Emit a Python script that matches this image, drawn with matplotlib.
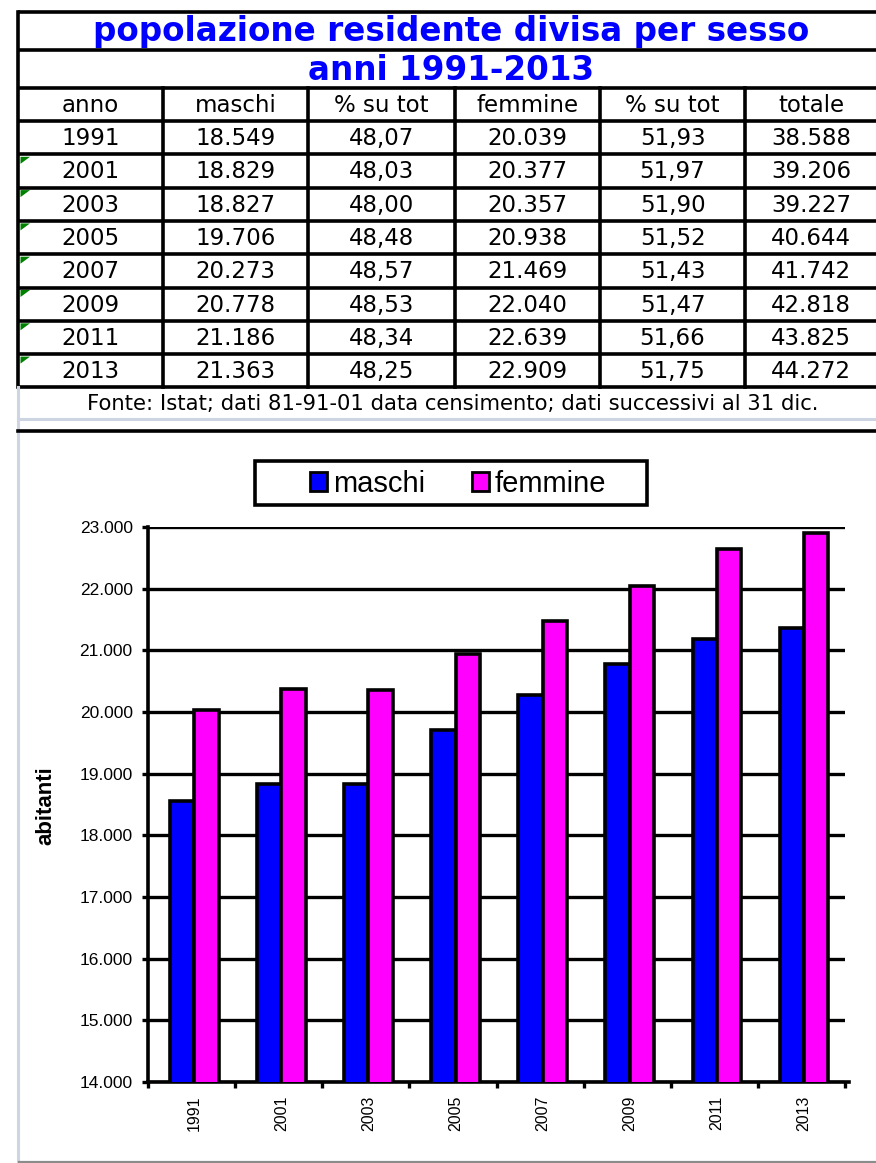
import matplotlib

matplotlib.use("Agg")
import matplotlib.pyplot as plt
import numpy as np
from matplotlib.patches import Patch, Polygon, Rectangle

YEARS = ["1991", "2001", "2003", "2005", "2007", "2009", "2011", "2013"]
MASCHI = [18549, 18829, 18827, 19706, 20273, 20778, 21186, 21363]
PCT_MASCHI = [48.07, 48.03, 48.00, 48.48, 48.57, 48.53, 48.34, 48.25]
FEMMINE = [20039, 20377, 20357, 20938, 21469, 22040, 22639, 22909]
PCT_FEMMINE = [51.93, 51.97, 51.90, 51.52, 51.43, 51.47, 51.66, 51.75]
TOTALE = [38588, 39206, 39227, 40644, 41742, 42818, 43825, 44272]

HEADERS = ["anno", "maschi", "% su tot", "femmine", "% su tot", "totale"]
TITLE_1 = "popolazione residente divisa per sesso"
TITLE_2 = "anni 1991-2013"
SOURCE = "Fonte: Istat; dati 81-91-01 data censimento; dati successivi al 31 dic."
SERIES_NAMES = ["maschi", "femmine"]
Y_TICKS = [14000, 15000, 16000, 17000, 18000, 19000, 20000, 21000, 22000, 23000]

# --- layout (pixels) -------------------------------------------------------
W, H = 876, 1163
COL_EDGES = [18, 163, 308, 455, 600, 745, 876]
TITLE_ROWS = [12, 50, 88]
HEADER_BOTTOM = 121
ROW_H = 33.3
BLUE = "#0000FF"
MAGENTA = "#FF00FF"
GRID_GREY = "#CDD5E3"
TABLE_FONT = "DejaVu Sans"
CHART_FONT = "Liberation Sans"


def _fmt_int(v: int) -> str:
    return f"{v:,}".replace(",", ".")


def _fmt_pct(v: float) -> str:
    return f"{v:.2f}".replace(".", ",")


def _draw_table(bg) -> None:
    left, right = COL_EDGES[0], COL_EDGES[-1]
    lw = 2.6
    n_rows = len(YEARS)
    table_bottom = HEADER_BOTTOM + n_rows * ROW_H

    # horizontal borders
    for y in TITLE_ROWS + [HEADER_BOTTOM]:
        bg.plot([left, right], [y, y], color="black", lw=lw, solid_capstyle="butt")
    for i in range(1, n_rows + 1):
        y = HEADER_BOTTOM + i * ROW_H
        bg.plot([left, right], [y, y], color="black", lw=lw, solid_capstyle="butt")
    # vertical borders
    bg.plot([left, left], [TITLE_ROWS[0], table_bottom], color="black", lw=lw)
    for x in COL_EDGES[1:-1]:
        bg.plot([x, x], [TITLE_ROWS[2], table_bottom], color="black", lw=lw)

    # titles
    for text, (y0, y1) in zip([TITLE_1, TITLE_2], [TITLE_ROWS[:2], TITLE_ROWS[1:]]):
        bg.text((left + right) / 2 + 4, (y0 + y1) / 2 + 1, text, ha="center",
                va="center", color=BLUE, fontsize=23.5, fontweight="bold",
                family=TABLE_FONT)

    centers = [(a + b) / 2 for a, b in zip(COL_EDGES[:-1], COL_EDGES[1:])]
    centers[-1] = 811
    for cx, head in zip(centers, HEADERS):
        bg.text(cx, (TITLE_ROWS[2] + HEADER_BOTTOM) / 2 + 1, head, ha="center",
                va="center", fontsize=16.5, family=TABLE_FONT)

    for i in range(n_rows):
        cy = HEADER_BOTTOM + (i + 0.5) * ROW_H + 1
        cells = [YEARS[i], _fmt_int(MASCHI[i]), _fmt_pct(PCT_MASCHI[i]),
                 _fmt_int(FEMMINE[i]), _fmt_pct(PCT_FEMMINE[i]), _fmt_int(TOTALE[i])]
        for cx, cell in zip(centers, cells):
            bg.text(cx, cy, cell, ha="center", va="center", fontsize=16.5,
                    family=TABLE_FONT)
        if i > 0:
            top = HEADER_BOTTOM + i * ROW_H + 2.5
            bg.add_patch(Polygon([[20.5, top], [30, top], [20.5, top + 7]],
                                 closed=True, color="#008000", lw=0))

    # footer row and sheet gridlines
    bg.text(453, 404, SOURCE, ha="center", va="center", fontsize=15.2,
            family=TABLE_FONT)
    bg.plot([left, right], [418.5, 418.5], color=GRID_GREY, lw=2.2)
    bg.plot([left, left], [table_bottom, 1162], color=GRID_GREY, lw=2.2)
    bg.plot([left, right], [431, 431], color="black", lw=2.6)
    bg.plot([left + 1, right], [1161.5, 1161.5], color="#8C8C8C", lw=1.6)


def _draw_chart(fig, bg) -> None:
    x0, x1, y_top, y_bot = 148, 845, 527, 1082
    ax = fig.add_axes([x0 / W, 1 - y_bot / H, (x1 - x0) / W, (y_bot - y_top) / H])
    x = np.arange(len(YEARS))
    bw = 0.28
    ax.bar(x - bw / 2 + 0.03, MASCHI, width=bw, color=BLUE, edgecolor="black",
           linewidth=2.6, zorder=3)
    ax.bar(x + bw / 2 + 0.03, FEMMINE, width=bw, color=MAGENTA, edgecolor="black",
           linewidth=2.6, zorder=3)

    ax.set_xlim(-0.5, len(YEARS) - 0.5)
    ax.set_ylim(Y_TICKS[0], Y_TICKS[-1])
    ax.set_yticks(Y_TICKS)
    ax.set_yticklabels([_fmt_int(v) for v in Y_TICKS], family=CHART_FONT,
                       fontsize=12.5)
    ax.yaxis.grid(True, color="black", lw=2.4)
    ax.set_axisbelow(True)
    ax.tick_params(axis="y", direction="out", length=4, width=2.4, pad=7)

    ax.set_xticks(x + 0.03)
    ax.set_xticklabels(YEARS, rotation=90, family=CHART_FONT, fontsize=11.5)
    ax.tick_params(axis="x", which="major", length=0, pad=10)
    ax.set_xticks(np.arange(len(YEARS) + 1) - 0.5, minor=True)
    ax.tick_params(axis="x", which="minor", direction="out", length=4, width=2.4)

    for side in ["top", "right"]:
        ax.spines[side].set_visible(False)
    for side in ["left", "bottom"]:
        ax.spines[side].set_linewidth(2.6)
    ax.spines["bottom"].set_bounds(-0.5, len(YEARS) - 0.45)

    bg.text(46, 806, "abitanti", rotation=90, ha="center", va="center",
            fontsize=16, fontweight="bold", family=CHART_FONT)

    # legend box
    bg.add_patch(Rectangle((255, 461), 392, 44, fill=False, edgecolor="black",
                           lw=2.6))
    handles = [Patch(facecolor=c, edgecolor="black", lw=2.0) for c in (BLUE, MAGENTA)]
    fig.legend(handles, SERIES_NAMES, loc="center", frameon=False,
               bbox_to_anchor=(458 / W, 1 - 484 / H), ncol=2,
               prop={"family": CHART_FONT, "size": 21}, handlelength=0.6,
               handleheight=0.6, handletextpad=0.2, columnspacing=1.6)


def main() -> None:
    fig = plt.figure(figsize=(W / 100, H / 100), dpi=100)
    bg = fig.add_axes([0, 0, 1, 1])
    bg.set_xlim(0, W)
    bg.set_ylim(H, 0)
    bg.axis("off")

    _draw_table(bg)
    _draw_chart(fig, bg)
    fig.savefig("out.png", dpi=100, facecolor="white")
    plt.close(fig)


if __name__ == "__main__":
    main()
